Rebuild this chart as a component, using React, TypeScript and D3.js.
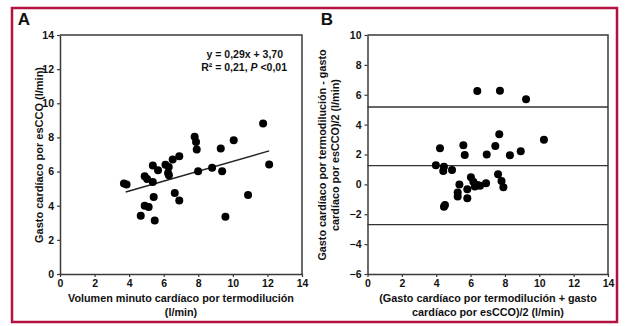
import * as d3 from 'd3';
import { useEffect, useRef } from 'react';

// Panel A: termodilución (x) vs esCCO (y), l/min
const scatterX = [3.7, 3.85, 4.9, 5.04, 5.37, 5.37, 5.67, 5.42, 4.9, 5.13, 4.67, 5.48, 6.64, 6.9, 6.1, 6.25, 6.29, 6.52, 6.9, 6.3, 7.79, 7.87, 7.91, 7.99, 8.8, 9.3, 9.38, 10.05, 11.75, 12.1, 10.88, 9.57];
const scatterY = [5.3, 5.25, 5.72, 5.57, 5.39, 6.35, 6.08, 4.51, 4.0, 3.92, 3.41, 3.14, 4.75, 4.31, 6.4, 5.92, 6.27, 6.7, 6.9, 5.78, 8.04, 7.73, 7.29, 6.02, 6.22, 7.35, 6.02, 7.84, 8.82, 6.41, 4.63, 3.35];
const slope = 0.29;
const intercept = 3.70;
const fitRange = [3.8, 12.1];

// Panel B: Bland-Altman
const meanX = [6.39, 7.71, 9.23, 4.22, 5.58, 5.66, 6.94, 7.67, 7.44, 8.29, 8.92, 10.27, 3.98, 4.45, 4.41, 4.92, 5.35, 5.25, 5.25, 5.81, 5.81, 6.02, 6.16, 6.25, 6.55, 6.9, 4.51, 4.45, 7.6, 7.8, 7.91, 6.4];
const diffY = [6.25, 6.27, 5.7, 2.42, 2.62, 1.97, 2.0, 3.35, 2.57, 1.95, 2.21, 2.99, 1.28, 1.18, 0.9, 0.96, 0.0, -0.55, -0.82, -0.93, -0.33, 0.47, 0.18, -0.15, -0.1, 0.07, -1.38, -1.49, 0.68, 0.23, -0.2, -0.05];
const limits = [5.18, 1.25, -2.7];

const ticksA = [0, 2, 4, 6, 8, 10, 12, 14];
const ticksBY = [-6, -4, -2, 0, 2, 4, 6, 8, 10];

const W = 628;
const H = 326;
const FONT = '"Liberation Sans", Arial, sans-serif';
const AXIS = '#3a3a3a';

export default function App() {
  const ref = useRef<SVGSVGElement>(null);

  useEffect(() => {
    if (!ref.current) return;
    const svg = d3.select(ref.current);
    svg.selectAll('*').remove();

    svg.append('rect').attr('width', W).attr('height', H).attr('fill', '#fff');
    // outer frame
    svg.append('rect')
      .attr('x', 12).attr('y', 8).attr('width', 605).attr('height', 314)
      .attr('fill', 'none').attr('stroke', '#b3123f').attr('stroke-width', 2.5);

    const top = 35;
    const bottom = 274;

    const drawFrame = (g: any, x: any, y: any, xt: number[], yt: number[]) => {
      const [x0, x1] = x.range();
      const xAxis = g.append('g').attr('transform', `translate(0,${bottom})`)
        .call(d3.axisBottom(x).tickValues(xt).tickSize(3).tickPadding(3).tickSizeOuter(0));
      const yAxis = g.append('g').attr('transform', `translate(${x0},0)`)
        .call(d3.axisLeft(y).tickValues(yt).tickSize(3).tickPadding(3).tickSizeOuter(0));
      [xAxis, yAxis].forEach((a: any) => {
        a.select('.domain').attr('stroke', AXIS).attr('stroke-width', 1.5);
        a.selectAll('.tick line').attr('stroke', AXIS).attr('stroke-width', 1.2);
        a.selectAll('.tick text')
          .attr('fill', '#111').attr('font-family', FONT)
          .attr('font-size', '10.5px').attr('font-weight', 'bold');
      });
      // top and right edges of the box
      g.append('path')
        .attr('d', `M${x0},${top}H${x1}V${bottom}`)
        .attr('fill', 'none').attr('stroke', AXIS).attr('stroke-width', 1.5);
    };

    const label = (g: any, text: string, x: number, y: number, size: number, rotate = false) => {
      g.append('text')
        .attr('transform', rotate ? `translate(${x},${y}) rotate(-90)` : `translate(${x},${y})`)
        .attr('text-anchor', 'middle')
        .attr('font-family', FONT).attr('font-size', `${size}px`).attr('font-weight', 'bold')
        .attr('fill', '#111')
        .text(text);
    };

    // ---- Panel A
    const gA = svg.append('g');
    const xA = d3.scaleLinear().domain([0, 14]).range([60, 302]);
    const yA = d3.scaleLinear().domain([0, 14]).range([bottom, top]);
    drawFrame(gA, xA, yA, ticksA, ticksA);

    gA.append('line')
      .attr('x1', xA(fitRange[0])).attr('y1', yA(slope * fitRange[0] + intercept))
      .attr('x2', xA(fitRange[1])).attr('y2', yA(slope * fitRange[1] + intercept))
      .attr('stroke', '#222').attr('stroke-width', 1.4);

    gA.selectAll('circle.a')
      .data(scatterX.map((v, i) => [v, scatterY[i]]))
      .join('circle')
      .attr('cx', (d: number[]) => xA(d[0])).attr('cy', (d: number[]) => yA(d[1]))
      .attr('r', 4).attr('fill', '#000');

    const eq = gA.append('g').attr('font-family', FONT).attr('font-size', '10.5px')
      .attr('font-weight', 'bold').attr('fill', '#111').attr('text-anchor', 'end');
    eq.append('text').attr('x', 283).attr('y', 58).text('y = 0,29x + 3,70');
    const r2 = eq.append('text').attr('x', 287).attr('y', 71);
    r2.append('tspan').text('R² = 0,21, ');
    r2.append('tspan').attr('font-style', 'italic').text('P');
    r2.append('tspan').text(' <0,01');

    label(gA, 'A', 24, 25, 17);
    label(gA, 'Gasto cardíaco por esCCO (l/min)', 43, 155, 11, true);
    label(gA, 'Volumen minuto cardíaco por termodilución', 181, 302, 10.8);
    label(gA, '(l/min)', 181, 316, 10.8);

    // ---- Panel B
    const gB = svg.append('g');
    const xB = d3.scaleLinear().domain([0, 14]).range([367.5, 608]);
    const yB = d3.scaleLinear().domain([-6, 10]).range([bottom, top]);
    drawFrame(gB, xB, yB, ticksA, ticksBY);

    gB.selectAll('line.lim')
      .data(limits)
      .join('line')
      .attr('x1', xB(0)).attr('x2', xB(14))
      .attr('y1', (d: number) => yB(d)).attr('y2', (d: number) => yB(d))
      .attr('stroke', '#333').attr('stroke-width', 1.3);

    gB.selectAll('circle.b')
      .data(meanX.map((v, i) => [v, diffY[i]]))
      .join('circle')
      .attr('cx', (d: number[]) => xB(d[0])).attr('cy', (d: number[]) => yB(d[1]))
      .attr('r', 4).attr('fill', '#000');

    label(gB, 'B', 327, 25, 17);
    label(gB, 'Gasto cardíaco por termodilución - gasto', 326, 155, 10.8, true);
    label(gB, 'cardíaco por esCCO)/2 (l/min)', 339, 155, 10.8, true);
    label(gB, '(Gasto cardíaco por termodilución + gasto', 488, 302, 10.8);
    label(gB, 'cardíaco por esCCO)/2 (l/min)', 488, 316, 10.8);
  }, []);

  return (
    <svg ref={ref} width={W} height={H}
      style={{ position: 'absolute', left: 0, top: 0, display: 'block' }} />
  );
}
